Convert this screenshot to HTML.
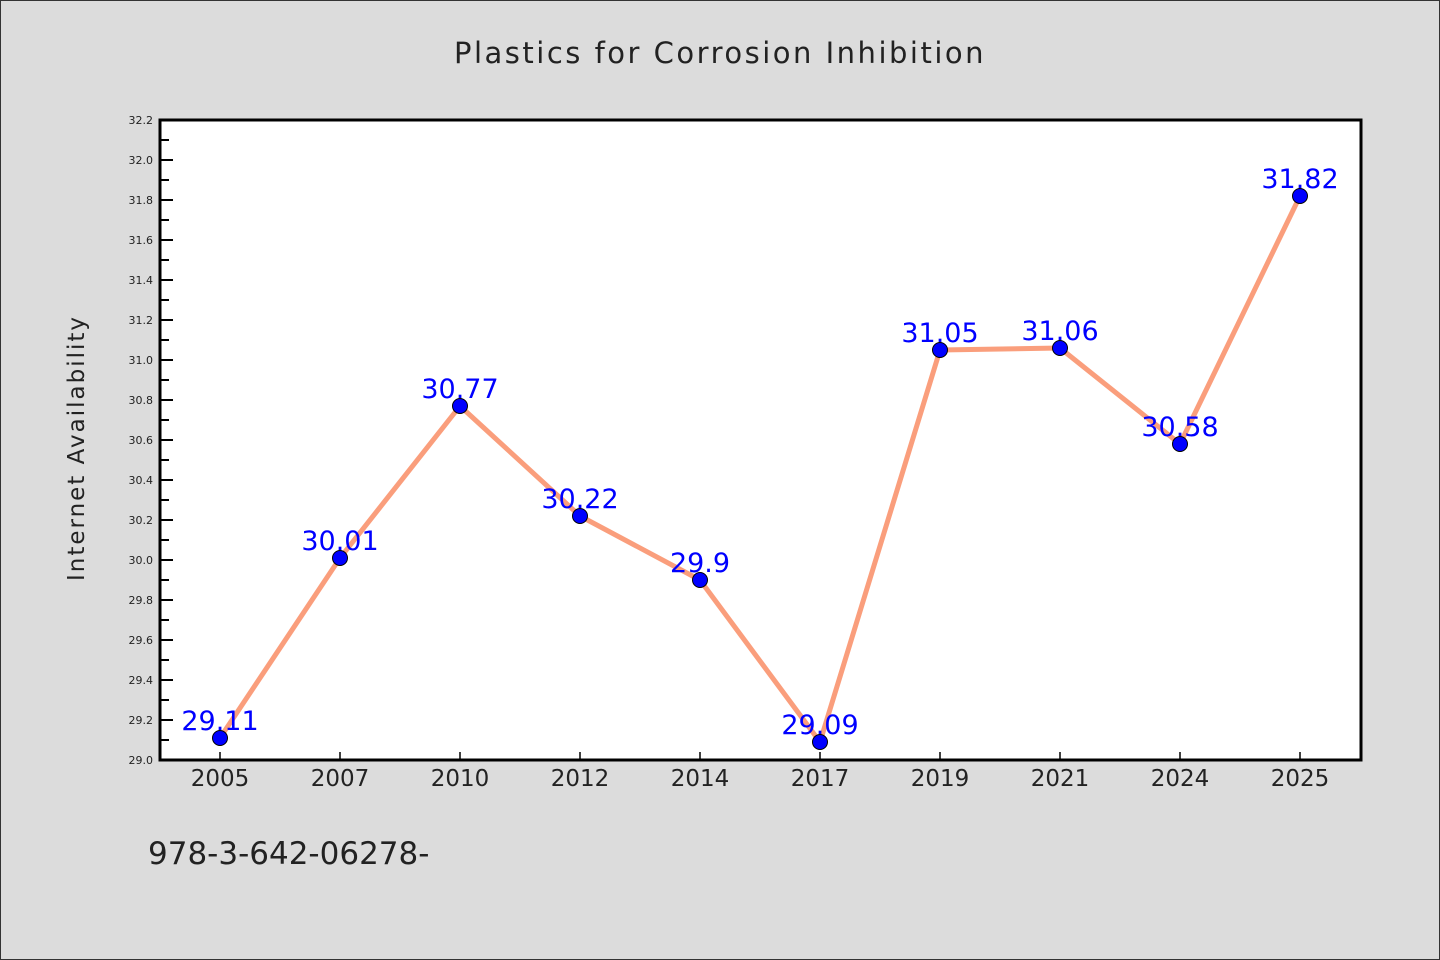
<!DOCTYPE html>
<html><head><meta charset="utf-8"><style>
body{margin:0;background:#dcdcdc}
svg{display:block}
text{font-family:"DejaVu Sans","Liberation Sans",sans-serif}
</style></head><body>
<svg id="c" width="1440" height="960" xmlns="http://www.w3.org/2000/svg">
<rect x="0.5" y="0.5" width="1439" height="959" fill="#dcdcdc" stroke="#333"/>
<text x="720" y="63" text-anchor="middle" font-size="29" fill="#222" letter-spacing="2.5">Plastics for Corrosion Inhibition</text>
<rect x="160" y="120" width="1201" height="640" fill="#fff"/>
<text transform="translate(84,448) rotate(-90)" text-anchor="middle" font-size="23" fill="#222" letter-spacing="2">Internet Availability</text>
<text x="148" y="864" font-size="31" fill="#222">978-3-642-06278-</text>
<g id="ax"></g><g id="marks"></g>
<rect x="160" y="120" width="1201" height="640" fill="none" stroke="#000" stroke-width="3"/>
</svg>
<script>
const categories=["2005","2007","2010","2012","2014","2017","2019","2021","2024","2025"];
const values=[29.11,30.01,30.77,30.22,29.9,29.09,31.05,31.06,30.58,31.82];
const labels=["29.11","30.01","30.77","30.22","29.9","29.09","31.05","31.06","30.58","31.82"];
const yTicks=[29.0,29.2,29.4,29.6,29.8,30.0,30.2,30.4,30.6,30.8,31.0,31.2,31.4,31.6,31.8,32.0,32.2];
const L=160,T=120,W=1200,H=640,yMin=29.0,yMax=32.2;
const NS="http://www.w3.org/2000/svg";
const x=i=>L+W/categories.length*(i+0.5);
const y=v=>T+H-(v-yMin)/(yMax-yMin)*H;
function mk(t,a,p){const e=document.createElementNS(NS,t);for(const k in a)e.setAttribute(k,a[k]);p.appendChild(e);return e;}
const ax=document.getElementById('ax'),mg=document.getElementById('marks');
yTicks.forEach((v,i)=>{
 const yy=y(v);
 const t=mk('line',{x1:L,x2:L+13,y1:yy,y2:yy,stroke:'#000','stroke-width':2},ax);
 
 
 const l=mk('text',{x:L-7,y:yy+4,'text-anchor':'end','font-size':11,fill:'#222'},ax);
 l.textContent=v.toFixed(1);
 
 
 if(i<yTicks.length-1){
  const m=mk('line',{x1:L,x2:L+9,y1:y(v+0.1),y2:y(v+0.1),stroke:'#000','stroke-width':2},ax);
  
  
 }
});
categories.forEach((c,i)=>{
 const t=mk('line',{x1:x(i),x2:x(i),y1:T+H,y2:T+H-8,stroke:'#000','stroke-width':1.5},ax);
 
 
 const l=mk('text',{x:x(i),y:T+H+26,'text-anchor':'middle','font-size':23,fill:'#222'},ax);
 l.textContent=c;
 
 
});
const line=mk('polyline',{points:values.map((v,i)=>x(i)+','+y(v)).join(' '),fill:'none',stroke:'#fa9e7c','stroke-width':5,'stroke-linejoin':'round'},mg);


values.forEach((v,i)=>{
 const l=mk('text',{x:x(i),y:y(v)-8,'text-anchor':'middle','font-size':27,fill:'#0000ff'},mg);
 l.textContent=labels[i];
 
 
});
values.forEach((v,i)=>{
 const p=mk('circle',{cx:x(i),cy:y(v),r:7.5,fill:'#0000ff',stroke:'#000','stroke-width':1},mg);
 
 
});
</script>
</body></html>
